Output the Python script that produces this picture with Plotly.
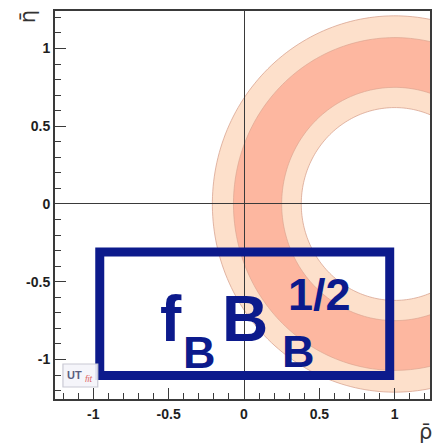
import numpy as np
import plotly.graph_objects as go

# Constraint from f_B * sqrt(B_B): ring centred on (rho, eta) = (1, 0)
ring_center = (1.0, 0.0)
band95_radii = [0.62, 1.21]   # light band (95% probability)
band68_radii = [0.75, 1.07]   # dark band (68% probability)

x_tickvals = [-1, -0.5, 0, 0.5, 1]
x_ticktext = ["-1", "-0.5", "0", "0.5", "1"]
y_tickvals = [-1, -0.5, 0, 0.5, 1]
y_ticktext = ["-1", "-0.5", "0", "0.5", "1"]

x_range = [-1.254, 1.234]
y_range = [-1.254, 1.241]

LIGHT = "#fde0cb"
DARK = "#fdb7a0"
EDGE = "rgba(215,160,140,0.75)"
NAVY = "#0c1a8c"
AXIS = "#3a3a3a"


def annulus_path(center, r_in, r_out, n=240):
    t = np.linspace(0, 2 * np.pi, n)
    cx, cy = center
    outer = [(cx + r_out * np.cos(a), cy + r_out * np.sin(a)) for a in t]
    inner = [(cx + r_in * np.cos(a), cy + r_in * np.sin(a)) for a in t[::-1]]

    def ring(pts):
        head = "M {:.4f},{:.4f} ".format(*pts[0])
        return head + " ".join("L {:.4f},{:.4f}".format(*p) for p in pts[1:]) + " Z"

    return ring(outer) + " " + ring(inner)


fig = go.Figure()
# invisible trace to set up the cartesian axes
fig.add_trace(go.Scatter(x=[0], y=[0], mode="markers",
                         marker=dict(opacity=0), hoverinfo="skip",
                         showlegend=False))

shapes = [
    dict(type="path", xref="x", yref="y", layer="below",
         path=annulus_path(ring_center, *band95_radii),
         fillcolor=LIGHT, line=dict(color=EDGE, width=1)),
    dict(type="path", xref="x", yref="y", layer="below",
         path=annulus_path(ring_center, *band68_radii),
         fillcolor=DARK, line=dict(color=EDGE, width=0.8)),
]

# plot-area pixel geometry (margins below)
L, R, T, B = 55, 1, 11, 49
W, H = 433, 448
PW, PH = W - L - R, H - T - B


def px(xp):
    return (xp - L) / PW


def py(yp):
    return (H - B - yp) / PH


# label frame
shapes.append(dict(type="rect", xref="paper", yref="paper", layer="above",
                   x0=px(100), x1=px(391.5), y0=py(375.5), y1=py(252),
                   line=dict(color=NAVY, width=9), fillcolor="rgba(0,0,0,0)"))
# small logo box
shapes.append(dict(type="rect", xref="paper", yref="paper", layer="above",
                   x0=px(63), x1=px(98), y0=py(387), y1=py(364),
                   line=dict(color="#c9c9d4", width=1.2),
                   fillcolor="rgba(244,244,250,0.9)"))

BIG = dict(family="Liberation Sans, Arial, sans-serif", size=64, color=NAVY, weight="bold")
SMALL = dict(family="Liberation Sans, Arial, sans-serif", size=45, color=NAVY, weight="bold")

annotations = [
    dict(text="f", x=px(172), y=py(319), font=BIG),
    dict(text="B", x=px(200), y=py(352), font=SMALL),
    dict(text="B", x=px(246), y=py(319), font=BIG),
    dict(text="B", x=px(299.5), y=py(351), font=SMALL),
    dict(text="1/2", x=px(321), y=py(294), font=SMALL),
    # axis titles
    dict(text="\u03b7\u0304", x=px(28), y=py(17), textangle=-90,
         font=dict(family="DejaVu Sans, sans-serif", size=21, color="#333")),
    dict(text="\u03c1\u0304", x=px(427), y=py(432),
         font=dict(family="DejaVu Sans, sans-serif", size=21, color="#333")),
    # logo
    dict(text="<b>UT</b>", x=px(74.5), y=py(375), xanchor="center",
         font=dict(family="Liberation Sans, Arial", size=11, color="#5a5f80")),
    dict(text="<i>fit</i>", x=px(89), y=py(379),
         font=dict(family="Liberation Sans, Arial", size=9, color="#e06a6a")),
]
for a in annotations:
    a.setdefault("xref", "paper")
    a.setdefault("yref", "paper")
    a.setdefault("xanchor", "center")
    a.setdefault("yanchor", "middle")
    a.setdefault("showarrow", False)

tickfont = dict(family="Liberation Sans, Arial, sans-serif", size=14,
                color="#1e1e1e", weight="bold")

common_axis = dict(
    showgrid=False,
    zeroline=True, zerolinecolor=AXIS, zerolinewidth=1.4,
    showline=True, linecolor=AXIS, linewidth=2, mirror=True,
    ticks="inside", ticklen=11, tickwidth=1.4, tickcolor=AXIS,
    tickfont=tickfont,
    minor=dict(dtick=0.1, ticks="inside", ticklen=6, tickwidth=1.2,
               tickcolor=AXIS, showgrid=False),
)

fig.update_layout(
    width=W, height=H, autosize=False,
    margin=dict(l=L, r=R, t=T, b=B, pad=0),
    paper_bgcolor="white", plot_bgcolor="white",
    shapes=shapes, annotations=annotations,
    showlegend=False,
    xaxis=dict(range=x_range, tickvals=x_tickvals, ticktext=x_ticktext,
               ticklabelstandoff=1, **common_axis),
    yaxis=dict(range=y_range, tickvals=y_tickvals, ticktext=y_ticktext,
               ticklabelstandoff=0, **common_axis),
)

fig.write_html("out.html")
